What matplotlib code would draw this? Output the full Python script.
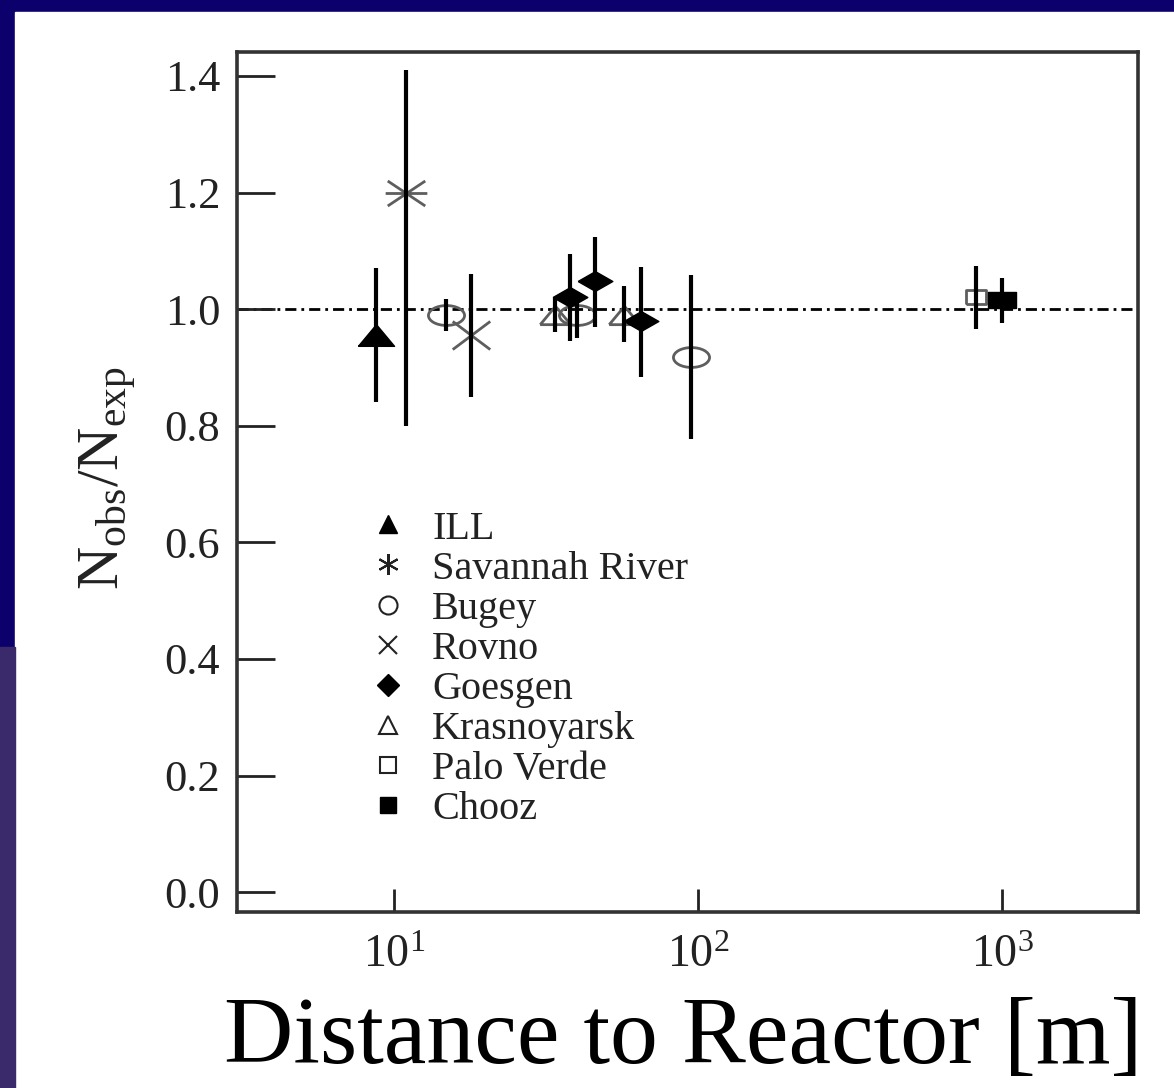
import matplotlib.pyplot as plt
import matplotlib.path as mpath
import matplotlib.patches as mpatches
import numpy as np
from matplotlib.lines import Line2D
from matplotlib.ticker import FormatStrFormatter, NullLocator, FixedLocator

plt.rcParams['font.family'] = 'Liberation Serif'
plt.rcParams['mathtext.fontset'] = 'custom'
plt.rcParams['mathtext.rm'] = 'Liberation Serif'
plt.rcParams['mathtext.it'] = 'Liberation Serif:italic'

# reactor experiments: distance [m], Nobs/Nexp, lower / upper error
ill_d = [8.76]
ill_r = [0.955]
ill_lo = [0.115]
ill_hi = [0.115]

sr_d = [11.0]
sr_r = [1.20]
sr_lo = [0.40]
sr_hi = [0.21]

bugey_d = [14.9, 40.0, 95.0]
bugey_r = [0.99, 0.99, 0.918]
bugey_lo = [0.028, 0.04, 0.14]
bugey_hi = [0.028, 0.04, 0.14]

rovno_d = [18.0]
rovno_r = [0.955]
rovno_lo = [0.105]
rovno_hi = [0.105]

goesgen_d = [38.0, 46.0, 65.0]
goesgen_r = [1.02, 1.048, 0.979]
goesgen_lo = [0.075, 0.078, 0.095]
goesgen_hi = [0.075, 0.075, 0.093]

kras_d = [34.0, 57.0]
kras_r = [0.99, 0.99]
kras_lo = [0.03, 0.047]
kras_hi = [0.03, 0.05]

pv_d = [820.0]
pv_r = [1.02]
pv_lo = [0.054]
pv_hi = [0.054]

chooz_d = [1000.0]
chooz_r = [1.015]
chooz_lo = [0.038]
chooz_hi = [0.038]

labels = ['ILL', 'Savannah River', 'Bugey', 'Rovno', 'Goesgen',
          'Krasnoyarsk', 'Palo Verde', 'Chooz']

# squashed marker shapes (wider than tall)
tri = [(-1, -0.6), (1, -0.6), (0, 0.6), (-1, -0.6)]
diamond = [(-1, 0), (0, 0.57), (1, 0), (0, -0.57), (-1, 0)]
rect_open = [(-1, -0.75), (1, -0.75), (1, 0.75), (-1, 0.75), (-1, -0.75)]
rect_full = [(-1, -0.6), (1, -0.6), (1, 0.6), (-1, 0.6), (-1, -0.6)]
circ = mpath.Path.unit_circle()
ellipse = mpath.Path(circ.vertices * [1, 0.55], circ.codes)
M, L = mpath.Path.MOVETO, mpath.Path.LINETO
cross = mpath.Path([(-1, -0.75), (1, 0.75), (-1, 0.75), (1, -0.75)], [M, L, M, L])
star = mpath.Path([(-1, 0), (1, 0), (-0.9, -0.6), (0.9, 0.6), (-0.9, 0.6), (0.9, -0.6)],
                  [M, L, M, L, M, L])

grey = '#5e5e5e'

fig = plt.figure(figsize=(11.74, 10.88), dpi=100, facecolor='#0b006c')
fig.patches.append(mpatches.Rectangle((15 / 1174, 0), 1, 1 - 12 / 1088,
                                      transform=fig.transFigure, color='white', zorder=-2))
fig.patches.append(mpatches.Rectangle((0, 0), 15 / 1174, 1 - 647 / 1088,
                                      transform=fig.transFigure, color='#3b2a6b', zorder=-2))

ax = fig.add_axes([237 / 1174, 1 - 912 / 1088, (1138 - 237) / 1174, (912 - 52) / 1088])
ax.set_facecolor('white')

ax.axhline(1.0, color='black', lw=2.0, ls=(0, (4, 1.8, 1, 1.8)), zorder=1)

sets = [
    (ill_d, ill_r, ill_lo, ill_hi, dict(marker=tri, ms=26, mfc='black', mec='black')),
    (sr_d, sr_r, sr_lo, sr_hi, dict(marker=star, ms=30, mfc='none', mec=grey, mew=2)),
    (bugey_d, bugey_r, bugey_lo, bugey_hi, dict(marker=ellipse, ms=26, mfc='none', mec=grey, mew=2)),
    (rovno_d, rovno_r, rovno_lo, rovno_hi, dict(marker=cross, ms=27, mfc='none', mec=grey, mew=2)),
    (goesgen_d, goesgen_r, goesgen_lo, goesgen_hi, dict(marker=diamond, ms=25, mfc='black', mec='black')),
    (kras_d, kras_r, kras_lo, kras_hi, dict(marker=tri, ms=22, mfc='none', mec=grey, mew=2)),
    (pv_d, pv_r, pv_lo, pv_hi, dict(marker=rect_open, ms=14, mfc='none', mec=grey, mew=2)),
    (chooz_d, chooz_r, chooz_lo, chooz_hi, dict(marker=rect_full, ms=20, mfc='black', mec='black')),
]

for d, r, lo, hi, style in sets:
    filled = style['mfc'] != 'none'
    ax.plot(d, r, ls='none', zorder=4 if filled else 2, **style)
    ax.errorbar(d, r, yerr=[lo, hi], fmt='none', ecolor='black', elinewidth=3.0,
                capsize=0, zorder=3)

ax.set_xscale('log')
ax.set_xlim(3.05, 2800)
ax.set_ylim(-0.034, 1.441)
ax.xaxis.set_major_locator(FixedLocator([10, 100, 1000]))
ax.xaxis.set_minor_locator(NullLocator())
ax.set_yticks(np.arange(0, 1.41, 0.2))
ax.yaxis.set_major_formatter(FormatStrFormatter('%.1f'))

ax.tick_params(axis='x', direction='in', length=16.5, width=2, pad=16,
               labelsize=33, colors='#222222', top=False)
ax.tick_params(axis='y', direction='in', length=27, width=2, pad=12,
               labelsize=32, colors='#222222', right=False)
for s in ax.spines.values():
    s.set_linewidth(2.6)
    s.set_color('#333333')

ax.set_ylabel(r'N$_{\mathrm{obs}}$/N$_{\mathrm{exp}}$', fontsize=43, color='#222222')
ax.yaxis.set_label_coords(-0.143, 0.505)
ax.yaxis.label.set_va('center')

ax.set_xlabel('Distance to Reactor [m]', fontsize=69, color='black')
ax.xaxis.set_label_coords(0.495, -0.1756)
ax.xaxis.label.set_va('baseline')

# legend with plain symbols
handles = [
    Line2D([], [], ls='none', marker='^', ms=13, mfc='black', mec='black'),
    Line2D([], [], ls='none', marker=(6, 2, 0), ms=15, mec='#222222', mew=1.5),
    Line2D([], [], ls='none', marker='o', ms=13, mfc='none', mec='#222222', mew=1.5),
    Line2D([], [], ls='none', marker='x', ms=13, mec='#222222', mew=1.5),
    Line2D([], [], ls='none', marker='D', ms=11, mfc='black', mec='black'),
    Line2D([], [], ls='none', marker='^', ms=13, mfc='none', mec='#222222', mew=1.5),
    Line2D([], [], ls='none', marker='s', ms=12, mfc='none', mec='#222222', mew=1.5),
    Line2D([], [], ls='none', marker='s', ms=12, mfc='black', mec='black'),
]
leg = ax.legend(handles, labels, loc='upper left', bbox_to_anchor=(0.145, 0.467),
                frameon=False, fontsize=29, labelspacing=0.07, handlelength=1.0,
                handletextpad=0.6, borderpad=0, borderaxespad=0)
for t in leg.get_texts():
    t.set_color('#222222')

fig.savefig('out.png', dpi=100, facecolor=fig.get_facecolor())
